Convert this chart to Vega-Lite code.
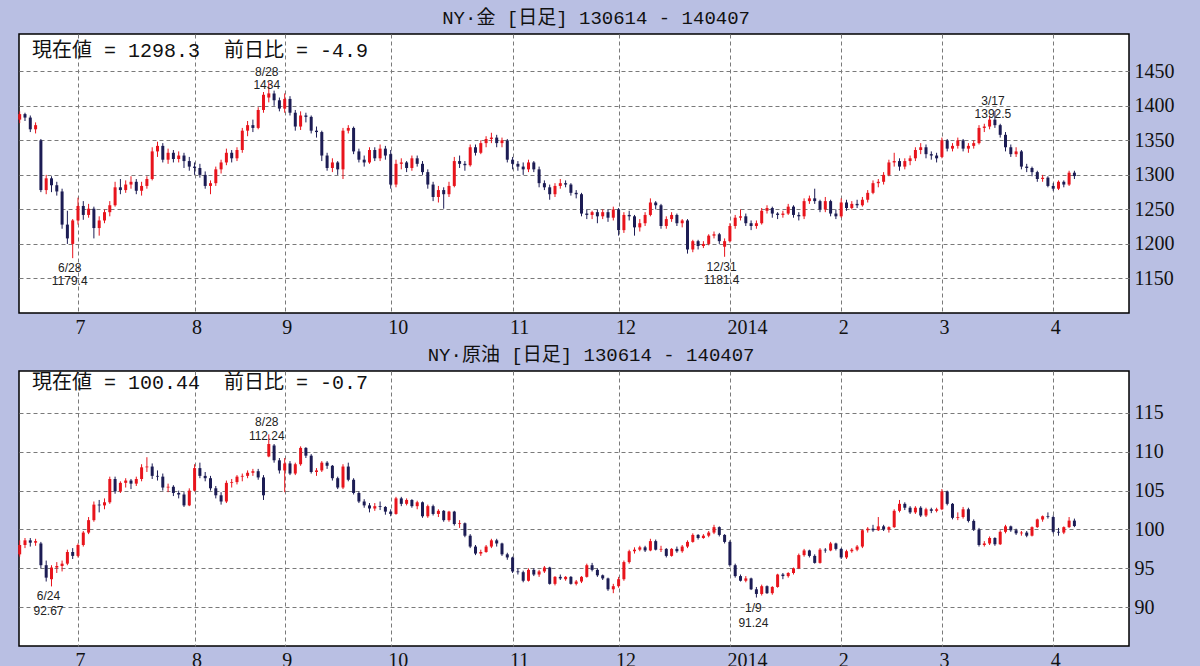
{
"$schema": "https://vega.github.io/schema/vega-lite/v6.json",
"background": "#B9BFE3",
"padding": {"left": 17, "top": 8, "right": 25, "bottom": 0},
"spacing": 7,
"datasets": {
"gold": [
{"i":0,"o":1380,"h":1392,"l":1375,"c":1388},{"i":1,"o":1388,"h":1390,"l":1378,"c":1383},{"i":2,"o":1383,"h":1386,"l":1362,"c":1366},{"i":3,"o":1366,"h":1376,"l":1360,"c":1372},{"i":4,"o":1350,"h":1352,"l":1275,"c":1278},{"i":5,"o":1278,"h":1300,"l":1272,"c":1295},{"i":6,"o":1295,"h":1298,"l":1275,"c":1285},{"i":7,"o":1285,"h":1290,"l":1270,"c":1276},{"i":8,"o":1276,"h":1280,"l":1222,"c":1228},{"i":9,"o":1228,"h":1248,"l":1200,"c":1208},
{"i":10,"o":1200,"h":1236,"l":1179.4,"c":1234},{"i":11,"o":1234,"h":1267,"l":1228,"c":1255},{"i":12,"o":1255,"h":1262,"l":1235,"c":1242},{"i":13,"o":1242,"h":1258,"l":1238,"c":1251},{"i":14,"o":1251,"h":1254,"l":1208,"c":1223},{"i":15,"o":1223,"h":1240,"l":1212,"c":1234},{"i":16,"o":1234,"h":1250,"l":1230,"c":1246},{"i":17,"o":1246,"h":1262,"l":1240,"c":1256},{"i":18,"o":1256,"h":1290,"l":1254,"c":1282},{"i":19,"o":1282,"h":1294,"l":1272,"c":1278},
{"i":20,"o":1278,"h":1292,"l":1274,"c":1286},{"i":21,"o":1286,"h":1298,"l":1280,"c":1290},{"i":22,"o":1290,"h":1294,"l":1272,"c":1277},{"i":23,"o":1277,"h":1290,"l":1270,"c":1284},{"i":24,"o":1284,"h":1298,"l":1280,"c":1294},{"i":25,"o":1294,"h":1340,"l":1292,"c":1334},{"i":26,"o":1334,"h":1348,"l":1326,"c":1342},{"i":27,"o":1342,"h":1346,"l":1318,"c":1322},{"i":28,"o":1322,"h":1338,"l":1316,"c":1332},{"i":29,"o":1332,"h":1336,"l":1318,"c":1323},
{"i":30,"o":1323,"h":1334,"l":1318,"c":1328},{"i":31,"o":1328,"h":1332,"l":1310,"c":1320},{"i":32,"o":1320,"h":1326,"l":1306,"c":1312},{"i":33,"o":1312,"h":1318,"l":1300,"c":1310},{"i":34,"o":1310,"h":1316,"l":1296,"c":1300},{"i":35,"o":1300,"h":1305,"l":1280,"c":1284},{"i":36,"o":1284,"h":1292,"l":1272,"c":1288},{"i":37,"o":1288,"h":1312,"l":1284,"c":1308},{"i":38,"o":1308,"h":1322,"l":1302,"c":1318},{"i":39,"o":1318,"h":1338,"l":1314,"c":1332},
{"i":40,"o":1332,"h":1336,"l":1318,"c":1324},{"i":41,"o":1324,"h":1340,"l":1320,"c":1336},{"i":42,"o":1336,"h":1368,"l":1332,"c":1364},{"i":43,"o":1364,"h":1378,"l":1356,"c":1372},{"i":44,"o":1372,"h":1380,"l":1362,"c":1368},{"i":45,"o":1368,"h":1398,"l":1366,"c":1394},{"i":46,"o":1394,"h":1420,"l":1390,"c":1416},{"i":47,"o":1412,"h":1434,"l":1405,"c":1418},{"i":48,"o":1418,"h":1422,"l":1400,"c":1408},{"i":49,"o":1408,"h":1412,"l":1392,"c":1396},
{"i":50,"o":1396,"h":1418,"l":1390,"c":1410},{"i":51,"o":1410,"h":1414,"l":1386,"c":1390},{"i":52,"o":1390,"h":1394,"l":1364,"c":1370},{"i":53,"o":1370,"h":1392,"l":1365,"c":1386},{"i":54,"o":1386,"h":1390,"l":1376,"c":1384},{"i":55,"o":1384,"h":1386,"l":1360,"c":1364},{"i":56,"o":1364,"h":1370,"l":1354,"c":1362},{"i":57,"o":1362,"h":1364,"l":1320,"c":1328},{"i":58,"o":1328,"h":1332,"l":1306,"c":1310},{"i":59,"o":1310,"h":1324,"l":1304,"c":1318},
{"i":60,"o":1318,"h":1320,"l":1300,"c":1308},{"i":61,"o":1308,"h":1368,"l":1294,"c":1364},{"i":62,"o":1364,"h":1372,"l":1360,"c":1368},{"i":63,"o":1368,"h":1370,"l":1330,"c":1334},{"i":64,"o":1334,"h":1338,"l":1318,"c":1322},{"i":65,"o":1322,"h":1328,"l":1312,"c":1318},{"i":66,"o":1318,"h":1340,"l":1316,"c":1336},{"i":67,"o":1336,"h":1340,"l":1320,"c":1324},{"i":68,"o":1324,"h":1344,"l":1320,"c":1338},{"i":69,"o":1338,"h":1342,"l":1322,"c":1328},
{"i":70,"o":1330,"h":1336,"l":1280,"c":1286},{"i":71,"o":1286,"h":1322,"l":1282,"c":1316},{"i":72,"o":1316,"h":1324,"l":1308,"c":1318},{"i":73,"o":1318,"h":1320,"l":1304,"c":1310},{"i":74,"o":1310,"h":1328,"l":1306,"c":1324},{"i":75,"o":1324,"h":1328,"l":1312,"c":1316},{"i":76,"o":1316,"h":1320,"l":1300,"c":1304},{"i":77,"o":1304,"h":1308,"l":1280,"c":1286},{"i":78,"o":1286,"h":1290,"l":1262,"c":1268},{"i":79,"o":1268,"h":1284,"l":1260,"c":1278},
{"i":80,"o":1278,"h":1282,"l":1251,"c":1272},{"i":81,"o":1272,"h":1290,"l":1268,"c":1284},{"i":82,"o":1284,"h":1326,"l":1282,"c":1320},{"i":83,"o":1320,"h":1328,"l":1310,"c":1316},{"i":84,"o":1316,"h":1320,"l":1306,"c":1314},{"i":85,"o":1314,"h":1344,"l":1312,"c":1340},{"i":86,"o":1340,"h":1344,"l":1328,"c":1332},{"i":87,"o":1332,"h":1350,"l":1330,"c":1346},{"i":88,"o":1346,"h":1356,"l":1340,"c":1352},{"i":89,"o":1352,"h":1361,"l":1346,"c":1354},
{"i":90,"o":1354,"h":1358,"l":1340,"c":1346},{"i":91,"o":1346,"h":1354,"l":1340,"c":1350},{"i":92,"o":1350,"h":1352,"l":1318,"c":1322},{"i":93,"o":1322,"h":1326,"l":1308,"c":1316},{"i":94,"o":1316,"h":1320,"l":1306,"c":1312},{"i":95,"o":1312,"h":1318,"l":1300,"c":1308},{"i":96,"o":1308,"h":1322,"l":1304,"c":1318},{"i":97,"o":1318,"h":1320,"l":1304,"c":1308},{"i":98,"o":1308,"h":1312,"l":1282,"c":1288},{"i":99,"o":1288,"h":1292,"l":1278,"c":1282},
{"i":100,"o":1282,"h":1286,"l":1264,"c":1272},{"i":101,"o":1272,"h":1288,"l":1268,"c":1284},{"i":102,"o":1284,"h":1294,"l":1280,"c":1288},{"i":103,"o":1288,"h":1292,"l":1282,"c":1286},{"i":104,"o":1286,"h":1288,"l":1270,"c":1274},{"i":105,"o":1274,"h":1278,"l":1266,"c":1272},{"i":106,"o":1272,"h":1274,"l":1240,"c":1244},{"i":107,"o":1244,"h":1250,"l":1236,"c":1242},{"i":108,"o":1242,"h":1248,"l":1236,"c":1246},{"i":109,"o":1246,"h":1250,"l":1230,"c":1240},
{"i":110,"o":1240,"h":1250,"l":1236,"c":1246},{"i":111,"o":1246,"h":1250,"l":1232,"c":1238},{"i":112,"o":1238,"h":1254,"l":1234,"c":1250},{"i":113,"o":1250,"h":1252,"l":1212,"c":1220},{"i":114,"o":1220,"h":1246,"l":1216,"c":1242},{"i":115,"o":1242,"h":1248,"l":1234,"c":1240},{"i":116,"o":1240,"h":1242,"l":1212,"c":1224},{"i":117,"o":1224,"h":1236,"l":1218,"c":1230},{"i":118,"o":1230,"h":1246,"l":1226,"c":1242},{"i":119,"o":1242,"h":1266,"l":1240,"c":1260},
{"i":120,"o":1260,"h":1262,"l":1250,"c":1256},{"i":121,"o":1256,"h":1258,"l":1222,"c":1226},{"i":122,"o":1226,"h":1240,"l":1222,"c":1236},{"i":123,"o":1236,"h":1246,"l":1232,"c":1242},{"i":124,"o":1242,"h":1244,"l":1226,"c":1230},{"i":125,"o":1230,"h":1236,"l":1224,"c":1234},{"i":126,"o":1234,"h":1236,"l":1186,"c":1192},{"i":127,"o":1192,"h":1206,"l":1188,"c":1204},{"i":128,"o":1204,"h":1206,"l":1192,"c":1197},{"i":129,"o":1197,"h":1204,"l":1194,"c":1200},
{"i":130,"o":1200,"h":1214,"l":1198,"c":1212},{"i":131,"o":1212,"h":1218,"l":1208,"c":1214},{"i":132,"o":1214,"h":1216,"l":1200,"c":1204},{"i":133,"o":1196,"h":1208,"l":1181.4,"c":1204},{"i":134,"o":1204,"h":1230,"l":1202,"c":1226},{"i":135,"o":1226,"h":1242,"l":1222,"c":1238},{"i":136,"o":1238,"h":1250,"l":1234,"c":1240},{"i":137,"o":1240,"h":1244,"l":1226,"c":1230},{"i":138,"o":1230,"h":1234,"l":1220,"c":1226},{"i":139,"o":1226,"h":1234,"l":1222,"c":1230},
{"i":140,"o":1230,"h":1252,"l":1228,"c":1248},{"i":141,"o":1248,"h":1256,"l":1244,"c":1252},{"i":142,"o":1252,"h":1254,"l":1238,"c":1244},{"i":143,"o":1244,"h":1246,"l":1236,"c":1242},{"i":144,"o":1242,"h":1248,"l":1238,"c":1244},{"i":145,"o":1244,"h":1258,"l":1242,"c":1254},{"i":146,"o":1254,"h":1256,"l":1238,"c":1242},{"i":147,"o":1242,"h":1246,"l":1234,"c":1240},{"i":148,"o":1240,"h":1266,"l":1236,"c":1262},{"i":149,"o":1262,"h":1270,"l":1258,"c":1266},
{"i":150,"o":1266,"h":1280,"l":1258,"c":1262},{"i":151,"o":1262,"h":1264,"l":1246,"c":1250},{"i":152,"o":1250,"h":1268,"l":1246,"c":1262},{"i":153,"o":1262,"h":1264,"l":1240,"c":1244},{"i":154,"o":1244,"h":1250,"l":1236,"c":1240},{"i":155,"o":1240,"h":1266,"l":1238,"c":1260},{"i":156,"o":1260,"h":1264,"l":1248,"c":1252},{"i":157,"o":1252,"h":1262,"l":1250,"c":1258},{"i":158,"o":1258,"h":1264,"l":1252,"c":1256},{"i":159,"o":1256,"h":1268,"l":1254,"c":1264},
{"i":160,"o":1264,"h":1278,"l":1260,"c":1274},{"i":161,"o":1274,"h":1292,"l":1272,"c":1288},{"i":162,"o":1288,"h":1294,"l":1282,"c":1290},{"i":163,"o":1290,"h":1304,"l":1286,"c":1300},{"i":164,"o":1300,"h":1322,"l":1298,"c":1318},{"i":165,"o":1318,"h":1332,"l":1312,"c":1320},{"i":166,"o":1320,"h":1324,"l":1306,"c":1312},{"i":167,"o":1312,"h":1324,"l":1308,"c":1320},{"i":168,"o":1320,"h":1328,"l":1314,"c":1324},{"i":169,"o":1324,"h":1340,"l":1320,"c":1336},
{"i":170,"o":1336,"h":1346,"l":1330,"c":1340},{"i":171,"o":1340,"h":1344,"l":1324,"c":1330},{"i":172,"o":1330,"h":1334,"l":1322,"c":1328},{"i":173,"o":1328,"h":1332,"l":1318,"c":1324},{"i":174,"o":1326,"h":1354,"l":1324,"c":1350},{"i":175,"o":1350,"h":1352,"l":1334,"c":1338},{"i":176,"o":1338,"h":1346,"l":1334,"c":1342},{"i":177,"o":1342,"h":1354,"l":1338,"c":1350},{"i":178,"o":1350,"h":1352,"l":1334,"c":1338},{"i":179,"o":1338,"h":1346,"l":1332,"c":1342},
{"i":180,"o":1342,"h":1350,"l":1338,"c":1346},{"i":181,"o":1346,"h":1372,"l":1344,"c":1368},{"i":182,"o":1368,"h":1374,"l":1362,"c":1370},{"i":183,"o":1370,"h":1386,"l":1366,"c":1380},{"i":184,"o":1380,"h":1392.5,"l":1368,"c":1372},{"i":185,"o":1372,"h":1374,"l":1354,"c":1358},{"i":186,"o":1358,"h":1362,"l":1334,"c":1340},{"i":187,"o":1340,"h":1344,"l":1326,"c":1330},{"i":188,"o":1330,"h":1340,"l":1326,"c":1334},{"i":189,"o":1334,"h":1336,"l":1308,"c":1312},
{"i":190,"o":1312,"h":1316,"l":1304,"c":1310},{"i":191,"o":1310,"h":1312,"l":1298,"c":1304},{"i":192,"o":1304,"h":1306,"l":1290,"c":1294},{"i":193,"o":1294,"h":1300,"l":1290,"c":1296},{"i":194,"o":1296,"h":1298,"l":1282,"c":1284},{"i":195,"o":1284,"h":1288,"l":1277,"c":1280},{"i":196,"o":1280,"h":1292,"l":1278,"c":1290},{"i":197,"o":1290,"h":1292,"l":1282,"c":1286},{"i":198,"o":1286,"h":1306,"l":1284,"c":1303.2},{"i":199,"o":1303.2,"h":1306,"l":1294,"c":1298.3}
],
"oil": [
{"i":0,"o":96.8,"h":98.6,"l":96.5,"c":98.0},{"i":1,"o":98.0,"h":98.9,"l":97.6,"c":98.6},{"i":2,"o":98.6,"h":98.9,"l":97.8,"c":98.3},{"i":3,"o":98.3,"h":98.8,"l":97.9,"c":98.5},{"i":4,"o":98.2,"h":98.4,"l":95.0,"c":95.4},{"i":5,"o":95.4,"h":96.0,"l":93.3,"c":93.8},{"i":6,"o":93.6,"h":95.4,"l":92.67,"c":95.1},{"i":7,"o":95.1,"h":95.8,"l":94.4,"c":95.3},{"i":8,"o":95.3,"h":96.0,"l":94.6,"c":95.6},{"i":9,"o":95.6,"h":97.4,"l":95.4,"c":97.1},
{"i":10,"o":97.1,"h":97.6,"l":96.2,"c":96.6},{"i":11,"o":96.6,"h":98.2,"l":96.4,"c":98.0},{"i":12,"o":98.0,"h":99.8,"l":97.8,"c":99.6},{"i":13,"o":99.6,"h":101.6,"l":99.4,"c":101.2},{"i":14,"o":101.2,"h":103.6,"l":101.0,"c":103.2},{"i":15,"o":103.2,"h":103.8,"l":102.2,"c":103.1},{"i":16,"o":103.1,"h":104.0,"l":102.6,"c":103.5},{"i":17,"o":103.5,"h":106.8,"l":103.3,"c":106.5},{"i":18,"o":106.5,"h":106.8,"l":104.6,"c":104.9},{"i":19,"o":104.9,"h":106.2,"l":104.7,"c":106.0},
{"i":20,"o":106.0,"h":106.6,"l":105.4,"c":106.3},{"i":21,"o":106.3,"h":106.5,"l":105.2,"c":105.9},{"i":22,"o":105.9,"h":106.8,"l":105.6,"c":106.5},{"i":23,"o":106.5,"h":108.4,"l":106.2,"c":108.0},{"i":24,"o":108.0,"h":109.3,"l":107.4,"c":108.1},{"i":25,"o":108.1,"h":108.5,"l":106.5,"c":106.9},{"i":26,"o":106.9,"h":107.6,"l":106.3,"c":106.8},{"i":27,"o":106.8,"h":107.2,"l":105.0,"c":105.4},{"i":28,"o":105.4,"h":105.9,"l":104.8,"c":105.5},{"i":29,"o":105.5,"h":105.7,"l":104.3,"c":104.7},
{"i":30,"o":104.7,"h":105.0,"l":104.0,"c":104.5},{"i":31,"o":104.5,"h":104.8,"l":102.9,"c":103.1},{"i":32,"o":103.1,"h":105.3,"l":103.0,"c":105.0},{"i":33,"o":105.0,"h":108.4,"l":104.9,"c":107.9},{"i":34,"o":107.9,"h":108.6,"l":106.6,"c":106.9},{"i":35,"o":106.9,"h":107.4,"l":106.2,"c":106.6},{"i":36,"o":106.6,"h":106.9,"l":105.0,"c":105.3},{"i":37,"o":105.3,"h":105.6,"l":104.0,"c":104.4},{"i":38,"o":104.4,"h":104.8,"l":103.2,"c":103.6},{"i":39,"o":103.6,"h":106.3,"l":103.4,"c":106.0},
{"i":40,"o":106.0,"h":106.5,"l":105.4,"c":106.1},{"i":41,"o":106.1,"h":107.0,"l":105.8,"c":106.8},{"i":42,"o":106.8,"h":107.2,"l":106.2,"c":106.9},{"i":43,"o":106.9,"h":107.6,"l":106.6,"c":107.3},{"i":44,"o":107.3,"h":107.8,"l":106.9,"c":107.5},{"i":45,"o":107.5,"h":107.8,"l":106.4,"c":106.7},{"i":46,"o":106.7,"h":107.0,"l":103.8,"c":104.4},{"i":47,"o":109.4,"h":112.24,"l":109.3,"c":111.0},{"i":48,"o":110.8,"h":111.0,"l":108.6,"c":108.9},{"i":49,"o":108.9,"h":109.2,"l":107.2,"c":107.6},
{"i":50,"o":107.6,"h":109.2,"l":104.8,"c":108.5},{"i":51,"o":108.5,"h":108.8,"l":107.0,"c":107.2},{"i":52,"o":107.2,"h":108.6,"l":107.0,"c":108.4},{"i":53,"o":108.4,"h":110.7,"l":108.2,"c":110.5},{"i":54,"o":110.5,"h":110.6,"l":109.2,"c":109.5},{"i":55,"o":109.5,"h":109.7,"l":107.2,"c":107.4},{"i":56,"o":107.4,"h":107.9,"l":106.9,"c":107.6},{"i":57,"o":107.6,"h":108.8,"l":107.4,"c":108.6},{"i":58,"o":108.6,"h":108.8,"l":107.8,"c":108.2},{"i":59,"o":108.2,"h":108.3,"l":106.3,"c":106.6},
{"i":60,"o":106.6,"h":106.8,"l":105.2,"c":105.4},{"i":61,"o":105.4,"h":108.4,"l":105.2,"c":108.1},{"i":62,"o":108.1,"h":108.6,"l":106.2,"c":106.4},{"i":63,"o":106.4,"h":106.6,"l":104.5,"c":104.7},{"i":64,"o":104.7,"h":104.9,"l":103.4,"c":103.6},{"i":65,"o":103.6,"h":103.9,"l":102.8,"c":103.1},{"i":66,"o":103.1,"h":103.4,"l":102.2,"c":102.7},{"i":67,"o":102.7,"h":103.4,"l":102.4,"c":103.0},{"i":68,"o":103.0,"h":103.6,"l":102.5,"c":102.9},{"i":69,"o":102.9,"h":103.0,"l":101.9,"c":102.3},
{"i":70,"o":102.3,"h":102.6,"l":101.7,"c":102.0},{"i":71,"o":102.0,"h":104.2,"l":101.9,"c":104.0},{"i":72,"o":104.0,"h":104.2,"l":103.0,"c":103.3},{"i":73,"o":103.3,"h":104.0,"l":103.1,"c":103.8},{"i":74,"o":103.8,"h":103.9,"l":102.8,"c":103.0},{"i":75,"o":103.0,"h":103.7,"l":102.6,"c":103.5},{"i":76,"o":103.5,"h":103.6,"l":101.5,"c":101.7},{"i":77,"o":101.7,"h":103.2,"l":101.5,"c":103.0},{"i":78,"o":103.0,"h":103.2,"l":101.8,"c":102.0},{"i":79,"o":102.0,"h":102.6,"l":101.6,"c":102.4},
{"i":80,"o":102.4,"h":102.5,"l":101.0,"c":101.2},{"i":81,"o":101.2,"h":102.4,"l":101.0,"c":102.3},{"i":82,"o":102.3,"h":102.4,"l":100.5,"c":100.7},{"i":83,"o":100.7,"h":101.2,"l":100.2,"c":100.8},{"i":84,"o":100.8,"h":100.9,"l":99.0,"c":99.2},{"i":85,"o":99.2,"h":99.4,"l":97.6,"c":97.8},{"i":86,"o":97.8,"h":98.0,"l":96.7,"c":96.9},{"i":87,"o":96.9,"h":97.4,"l":96.6,"c":97.1},{"i":88,"o":97.1,"h":98.0,"l":97.0,"c":97.8},{"i":89,"o":97.8,"h":98.8,"l":97.6,"c":98.6},
{"i":90,"o":98.6,"h":98.8,"l":97.8,"c":98.2},{"i":91,"o":98.2,"h":98.3,"l":96.6,"c":96.8},{"i":92,"o":96.8,"h":97.0,"l":96.1,"c":96.4},{"i":93,"o":96.4,"h":96.5,"l":94.4,"c":94.6},{"i":94,"o":94.6,"h":95.0,"l":94.2,"c":94.5},{"i":95,"o":94.5,"h":94.7,"l":93.2,"c":93.4},{"i":96,"o":93.4,"h":95.0,"l":93.3,"c":94.8},{"i":97,"o":94.8,"h":95.0,"l":94.0,"c":94.2},{"i":98,"o":94.2,"h":94.8,"l":93.9,"c":94.6},{"i":99,"o":94.6,"h":95.3,"l":94.4,"c":95.1},
{"i":100,"o":95.1,"h":95.2,"l":92.9,"c":93.0},{"i":101,"o":93.0,"h":94.0,"l":92.8,"c":93.9},{"i":102,"o":93.9,"h":94.2,"l":93.5,"c":93.7},{"i":103,"o":93.6,"h":94.0,"l":93.4,"c":93.9},{"i":104,"o":93.9,"h":94.0,"l":92.9,"c":93.0},{"i":105,"o":93.0,"h":93.5,"l":92.8,"c":93.3},{"i":106,"o":93.3,"h":94.0,"l":93.1,"c":93.9},{"i":107,"o":93.9,"h":95.6,"l":93.8,"c":95.4},{"i":108,"o":95.4,"h":95.7,"l":94.6,"c":94.8},{"i":109,"o":94.8,"h":95.0,"l":93.9,"c":94.1},
{"i":110,"o":94.1,"h":94.2,"l":93.5,"c":93.7},{"i":111,"o":93.7,"h":93.8,"l":92.1,"c":92.3},{"i":112,"o":92.3,"h":93.0,"l":91.8,"c":92.7},{"i":113,"o":92.7,"h":93.9,"l":92.5,"c":93.6},{"i":114,"o":93.6,"h":96.0,"l":93.4,"c":95.8},{"i":115,"o":95.8,"h":97.4,"l":95.6,"c":97.2},{"i":116,"o":97.2,"h":97.7,"l":96.9,"c":97.4},{"i":117,"o":97.4,"h":97.9,"l":97.2,"c":97.7},{"i":118,"o":97.7,"h":97.9,"l":97.1,"c":97.3},{"i":119,"o":97.3,"h":98.8,"l":97.2,"c":98.5},
{"i":120,"o":98.5,"h":98.7,"l":97.3,"c":97.4},{"i":121,"o":97.4,"h":97.9,"l":97.1,"c":97.5},{"i":122,"o":97.5,"h":97.6,"l":96.4,"c":96.6},{"i":123,"o":96.6,"h":97.6,"l":96.5,"c":97.5},{"i":124,"o":97.5,"h":97.8,"l":97.0,"c":97.2},{"i":125,"o":97.2,"h":98.0,"l":97.0,"c":97.8},{"i":126,"o":97.8,"h":98.6,"l":97.6,"c":98.4},{"i":127,"o":98.4,"h":99.5,"l":98.3,"c":99.3},{"i":128,"o":99.3,"h":99.4,"l":98.7,"c":98.9},{"i":129,"o":98.9,"h":99.4,"l":98.8,"c":99.2},
{"i":130,"o":99.2,"h":99.8,"l":99.0,"c":99.6},{"i":131,"o":99.6,"h":100.6,"l":99.4,"c":100.3},{"i":132,"o":100.3,"h":100.4,"l":99.1,"c":99.3},{"i":133,"o":99.3,"h":99.4,"l":98.2,"c":98.4},{"i":134,"o":98.4,"h":98.6,"l":95.2,"c":95.4},{"i":135,"o":95.4,"h":95.6,"l":93.8,"c":94.0},{"i":136,"o":94.0,"h":94.2,"l":93.3,"c":93.4},{"i":137,"o":93.4,"h":94.0,"l":93.2,"c":93.7},{"i":138,"o":93.7,"h":93.8,"l":92.2,"c":92.3},{"i":139,"o":92.3,"h":92.6,"l":91.24,"c":91.7},
{"i":140,"o":91.7,"h":92.9,"l":91.5,"c":92.7},{"i":141,"o":92.7,"h":92.8,"l":91.7,"c":91.8},{"i":142,"o":91.8,"h":92.7,"l":91.6,"c":92.6},{"i":143,"o":92.6,"h":94.3,"l":92.5,"c":94.2},{"i":144,"o":94.2,"h":94.4,"l":93.6,"c":94.0},{"i":145,"o":94.0,"h":94.5,"l":93.8,"c":94.4},{"i":146,"o":94.4,"h":95.1,"l":94.2,"c":95.0},{"i":147,"o":95.0,"h":96.9,"l":94.9,"c":96.7},{"i":148,"o":96.7,"h":97.5,"l":96.5,"c":97.3},{"i":149,"o":97.3,"h":97.4,"l":96.4,"c":96.6},
{"i":150,"o":96.6,"h":96.8,"l":95.6,"c":95.7},{"i":151,"o":95.7,"h":97.6,"l":95.6,"c":97.4},{"i":152,"o":97.4,"h":97.6,"l":97.0,"c":97.3},{"i":153,"o":97.3,"h":98.4,"l":97.2,"c":98.2},{"i":154,"o":98.2,"h":98.3,"l":97.3,"c":97.5},{"i":155,"o":97.5,"h":97.6,"l":96.2,"c":96.4},{"i":156,"o":96.4,"h":97.4,"l":96.2,"c":97.2},{"i":157,"o":97.2,"h":97.6,"l":97.0,"c":97.4},{"i":158,"o":97.4,"h":98.0,"l":97.2,"c":97.8},{"i":159,"o":97.8,"h":100.0,"l":97.6,"c":99.9},
{"i":160,"o":99.9,"h":100.3,"l":99.6,"c":100.1},{"i":161,"o":100.1,"h":100.6,"l":99.7,"c":99.9},{"i":162,"o":99.9,"h":101.6,"l":99.8,"c":100.4},{"i":163,"o":100.4,"h":100.6,"l":99.8,"c":100.0},{"i":164,"o":100.0,"h":100.4,"l":99.6,"c":100.3},{"i":165,"o":100.3,"h":102.6,"l":100.2,"c":102.4},{"i":166,"o":102.4,"h":103.8,"l":102.2,"c":103.3},{"i":167,"o":103.3,"h":103.5,"l":102.5,"c":102.8},{"i":168,"o":102.8,"h":103.0,"l":102.0,"c":102.2},{"i":169,"o":102.2,"h":103.0,"l":102.0,"c":102.8},
{"i":170,"o":102.8,"h":103.0,"l":101.6,"c":101.8},{"i":171,"o":101.8,"h":102.8,"l":101.6,"c":102.6},{"i":172,"o":102.6,"h":102.8,"l":102.1,"c":102.4},{"i":173,"o":102.4,"h":102.8,"l":102.2,"c":102.6},{"i":174,"o":102.6,"h":105.2,"l":102.5,"c":104.9},{"i":175,"o":104.9,"h":105.0,"l":103.1,"c":103.3},{"i":176,"o":103.3,"h":103.4,"l":101.3,"c":101.5},{"i":177,"o":101.5,"h":102.2,"l":101.2,"c":101.6},{"i":178,"o":101.6,"h":102.9,"l":101.4,"c":102.6},{"i":179,"o":102.6,"h":102.8,"l":100.9,"c":101.1},
{"i":180,"o":101.1,"h":101.3,"l":99.8,"c":100.0},{"i":181,"o":100.0,"h":100.2,"l":97.8,"c":98.0},{"i":182,"o":98.0,"h":98.5,"l":97.8,"c":98.2},{"i":183,"o":98.2,"h":99.1,"l":98.0,"c":98.9},{"i":184,"o":98.9,"h":99.0,"l":97.9,"c":98.1},{"i":185,"o":98.1,"h":99.9,"l":98.0,"c":99.7},{"i":186,"o":99.7,"h":100.6,"l":99.5,"c":100.4},{"i":187,"o":100.4,"h":100.5,"l":99.7,"c":99.9},{"i":188,"o":99.9,"h":100.1,"l":99.3,"c":99.5},{"i":189,"o":99.5,"h":99.8,"l":99.2,"c":99.6},
{"i":190,"o":99.6,"h":99.8,"l":99.0,"c":99.2},{"i":191,"o":99.2,"h":100.4,"l":99.1,"c":100.3},{"i":192,"o":100.3,"h":101.4,"l":100.2,"c":101.3},{"i":193,"o":101.3,"h":101.8,"l":101.0,"c":101.7},{"i":194,"o":101.7,"h":102.2,"l":101.4,"c":101.6},{"i":195,"o":101.6,"h":101.8,"l":99.5,"c":99.7},{"i":196,"o":99.7,"h":100.2,"l":99.2,"c":99.6},{"i":197,"o":99.6,"h":100.4,"l":99.4,"c":100.3},{"i":198,"o":100.3,"h":101.6,"l":100.2,"c":101.14},{"i":199,"o":101.14,"h":101.4,"l":100.3,"c":100.44}
]
},
"vconcat": [
{
"title": {"text": "NY·金 [日足] 130614 - 140407", "frame": "bounds", "anchor": "middle"},
"width": 1110,
"height": 279,
"layer": [
{"data": {"name": "gold"}, "mark": {"type": "rule", "strokeWidth": 1},
 "encoding": {
  "x": {"field": "i", "type": "quantitative", "title": null, "scale": {"domain": [-0.13, 209.3], "nice": false, "zero": false, "padding": 0},
        "axis": {"values": [11,33,50,70,93,113,134,155,174,195], "labelExpr": "['7','8','9','10','11','12','2014','2','3','4'][indexof([11,33,50,70,93,113,134,155,174,195], datum.value)]", "labelAlign": "left", "labelPadding": 4, "labelOffset": -3, "labelOverlap": false}},
  "y": {"field": "l", "type": "quantitative", "title": null, "scale": {"domain": [1100, 1504], "nice": false, "zero": false, "padding": 0},
        "axis": {"orient": "right", "values": [1150,1200,1250,1300,1350,1400,1450], "format": "d", "labelPadding": 5}},
  "y2": {"field": "h"},
  "color": {"condition": {"test": "datum.c >= datum.o", "value": "#E8141C"}, "value": "#1C1C54"}
 }},
{"data": {"name": "gold"}, "mark": {"type": "bar", "size": 3},
 "encoding": {
  "x": {"field": "i", "type": "quantitative", "title": null},
  "y": {"field": "o", "type": "quantitative", "title": null},
  "y2": {"field": "c"},
  "color": {"condition": {"test": "datum.c >= datum.o", "value": "#E8141C"}, "value": "#1C1C54"}
 }},
{"data": {"values": [{"i": 47, "v": 1434, "t": "8/28\n1434"}, {"i": 184, "v": 1392.5, "t": "3/17\n1392.5"}]},
 "mark": {"type": "text", "baseline": "bottom", "dy": -3, "dx": -2, "lineBreak": "\n", "fontSize": 12, "lineHeight": 13, "font": "Liberation Sans", "color": "#222222"},
 "encoding": {"x": {"field": "i", "type": "quantitative", "title": null}, "y": {"field": "v", "type": "quantitative", "title": null}, "text": {"field": "t"}}},
{"data": {"values": [{"i": 10, "v": 1179.4, "t": "6/28\n1179.4"}, {"i": 133, "v": 1181.4, "t": "12/31\n1181.4"}]},
 "mark": {"type": "text", "baseline": "top", "dy": 5, "dx": -3, "lineBreak": "\n", "fontSize": 12, "lineHeight": 13, "font": "Liberation Sans", "color": "#222222"},
 "encoding": {"x": {"field": "i", "type": "quantitative", "title": null}, "y": {"field": "v", "type": "quantitative", "title": null}, "text": {"field": "t"}}},
{"data": {"values": [{"i": 2.3, "v": 1480, "t": "現在値 = 1298.3\u00a0\u00a0前日比 = -4.9"}]},
 "mark": {"type": "text", "align": "left", "baseline": "middle", "fontSize": 20, "font": "Liberation Mono, Noto Sans CJK JP", "color": "#111111"},
 "encoding": {"x": {"field": "i", "type": "quantitative", "title": null}, "y": {"field": "v", "type": "quantitative", "title": null}, "text": {"field": "t"}}}
]
},
{
"title": {"text": "NY·原油 [日足] 130614 - 140407", "frame": "bounds", "anchor": "middle"},
"width": 1110,
"height": 275,
"layer": [
{"data": {"name": "oil"}, "mark": {"type": "rule", "strokeWidth": 1},
 "encoding": {
  "x": {"field": "i", "type": "quantitative", "title": null, "scale": {"domain": [-0.13, 209.3], "nice": false, "zero": false, "padding": 0},
        "axis": {"values": [11,33,50,70,93,113,134,155,174,195], "labelExpr": "['7','8','9','10','11','12','2014','2','3','4'][indexof([11,33,50,70,93,113,134,155,174,195], datum.value)]", "labelAlign": "left", "labelPadding": 4, "labelOffset": -3, "labelOverlap": false}},
  "y": {"field": "l", "type": "quantitative", "title": null, "scale": {"domain": [85, 120.4], "nice": false, "zero": false, "padding": 0},
        "axis": {"orient": "right", "values": [90,95,100,105,110,115], "format": "d", "labelPadding": 5}},
  "y2": {"field": "h"},
  "color": {"condition": {"test": "datum.c >= datum.o", "value": "#E8141C"}, "value": "#1C1C54"}
 }},
{"data": {"name": "oil"}, "mark": {"type": "bar", "size": 3},
 "encoding": {
  "x": {"field": "i", "type": "quantitative", "title": null},
  "y": {"field": "o", "type": "quantitative", "title": null},
  "y2": {"field": "c"},
  "color": {"condition": {"test": "datum.c >= datum.o", "value": "#E8141C"}, "value": "#1C1C54"}
 }},
{"data": {"values": [{"i": 47, "v": 112.24, "t": "8/28\n112.24"}]},
 "mark": {"type": "text", "baseline": "bottom", "dy": -5, "dx": -2, "lineBreak": "\n", "fontSize": 12, "lineHeight": 14, "font": "Liberation Sans", "color": "#222222"},
 "encoding": {"x": {"field": "i", "type": "quantitative", "title": null}, "y": {"field": "v", "type": "quantitative", "title": null}, "text": {"field": "t"}}},
{"data": {"values": [{"i": 6, "v": 92.67, "t": "6/24\n92.67"}, {"i": 139, "v": 91.24, "t": "1/9\n91.24"}]},
 "mark": {"type": "text", "baseline": "top", "dy": 5, "dx": -3, "lineBreak": "\n", "fontSize": 12, "lineHeight": 15, "font": "Liberation Sans", "color": "#222222"},
 "encoding": {"x": {"field": "i", "type": "quantitative", "title": null}, "y": {"field": "v", "type": "quantitative", "title": null}, "text": {"field": "t"}}},
{"data": {"values": [{"i": 2.3, "v": 118.8, "t": "現在値 = 100.44\u00a0\u00a0前日比 = -0.7"}]},
 "mark": {"type": "text", "align": "left", "baseline": "middle", "fontSize": 20, "font": "Liberation Mono, Noto Sans CJK JP", "color": "#111111"},
 "encoding": {"x": {"field": "i", "type": "quantitative", "title": null}, "y": {"field": "v", "type": "quantitative", "title": null}, "text": {"field": "t"}}}
]
}
],
"config": {
 "view": {"fill": "#FFFFFF", "stroke": "#000000", "strokeWidth": 1.5},
 "axis": {"grid": true, "gridDash": [4, 3], "gridColor": "#7A7A7A", "gridOpacity": 1, "gridWidth": 1, "ticks": false, "domain": false, "labelColor": "#111111", "labelFont": "Liberation Serif", "labelFontSize": 20},
 "title": {"font": "Liberation Mono, Noto Sans CJK JP", "fontSize": 19, "fontWeight": "normal", "color": "#111111", "offset": 6}
}
}
